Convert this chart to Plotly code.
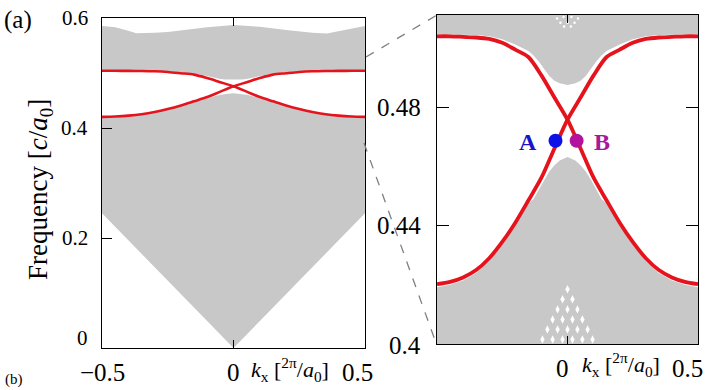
import plotly.graph_objects as go

# ---------------- data ----------------
# edge states (red curves)
edge_k = [-0.5, -0.45, -0.4, -0.35, -0.3, -0.25, -0.2, -0.15, -0.1, -0.05, 0.0,
          0.05, 0.1, 0.15, 0.2, 0.25, 0.3, 0.35, 0.4, 0.45, 0.5]
edge_down = [0.5040, 0.5040, 0.5038, 0.5036, 0.5031, 0.5018, 0.4995, 0.4970, 0.4908, 0.4833, 0.4758,
             0.4661, 0.4562, 0.4485, 0.4410, 0.4345, 0.4290, 0.4250, 0.4225, 0.4210, 0.4202]
edge_up = [0.4202, 0.4210, 0.4225, 0.4250, 0.4290, 0.4345, 0.4410, 0.4485, 0.4562, 0.4661, 0.4758,
           0.4833, 0.4908, 0.4970, 0.4995, 0.5018, 0.5031, 0.5036, 0.5038, 0.5040, 0.5040]

# bulk band boundaries (gray)
band_k = [-0.5, -0.45, -0.4, -0.35, -0.3, -0.25, -0.2, -0.15, -0.13, -0.11, -0.09, -0.07, -0.05, -0.03, 0.0,
          0.03, 0.05, 0.07, 0.09, 0.11, 0.13, 0.15, 0.2, 0.25, 0.3, 0.35, 0.4, 0.45, 0.5]
upper_band_bottom = [0.5046, 0.5046, 0.5045, 0.5044, 0.5040, 0.5030, 0.5012, 0.4990, 0.4975, 0.4955, 0.4930,
                     0.4906, 0.4890, 0.4881, 0.4875,
                     0.4881, 0.4890, 0.4906, 0.4930, 0.4955, 0.4975, 0.4990, 0.5012, 0.5030, 0.5040,
                     0.5044, 0.5045, 0.5046, 0.5046]
lower_band_top = [0.4192, 0.4200, 0.4215, 0.4240, 0.4280, 0.4335, 0.4400, 0.4475, 0.4490, 0.4520, 0.4555,
                  0.4583, 0.4604, 0.4620, 0.4632,
                  0.4620, 0.4604, 0.4583, 0.4555, 0.4520, 0.4490, 0.4475, 0.4400, 0.4335, 0.4280,
                  0.4240, 0.4215, 0.4200, 0.4192]
top_k = [-0.5, -0.45, -0.4, -0.37, -0.3, -0.25, -0.2, -0.1, 0.0, 0.1, 0.2, 0.25, 0.3, 0.355, 0.4, 0.45, 0.5]
top_f = [0.5855, 0.5830, 0.5770, 0.5725, 0.5730, 0.5745, 0.5770, 0.5830, 0.5873, 0.5840, 0.5780, 0.5750,
         0.5730, 0.5720, 0.5760, 0.5810, 0.5855]
cone_k = [-0.5, 0.0, 0.5]
cone_f = [0.245, 0.0, 0.245]

# white artefact dots inside the bulk (right panel)
dots_k = [0.0, -0.019, 0.019, -0.038, 0.0, 0.038, -0.057, -0.019, 0.019, 0.057,
          -0.077, -0.038, 0.0, 0.038, 0.077, -0.096, -0.057, -0.019, 0.019, 0.057, 0.096]
dots_f = [0.4185, 0.4151, 0.4151, 0.4117, 0.4117, 0.4117, 0.4083, 0.4083, 0.4083, 0.4083,
          0.4049, 0.4049, 0.4049, 0.4049, 0.4049, 0.4015, 0.4015, 0.4015, 0.4015, 0.4015, 0.4015]
topdots_k = [-0.04, -0.015, 0.015, 0.04, -0.027, 0.0, 0.027, -0.013, 0.013]
topdots_f = [0.5100, 0.5105, 0.5105, 0.5100, 0.5086, 0.5086, 0.5086, 0.5073, 0.5073]

# points A and B
pt_names = ["A", "B"]
pt_k = [-0.046, 0.035]
pt_f = [0.4687, 0.4687]

W, H = 726, 390
GRAY = "#c8c8c8"
RED = "#e5141c"
SERIF = "Liberation Serif"

fig = go.Figure()

for xa, ya, lw in [("x", "y", 2.6), ("x2", "y2", 3.8)]:
    # upper bulk band
    fig.add_trace(go.Scatter(
        x=band_k + top_k[::-1], y=upper_band_bottom + top_f[::-1],
        xaxis=xa, yaxis=ya, mode="lines", fill="toself", fillcolor=GRAY,
        line=dict(width=0, color=GRAY), hoverinfo="skip", showlegend=False))
    # lower bulk band
    fig.add_trace(go.Scatter(
        x=band_k + cone_k[::-1], y=lower_band_top + cone_f[::-1],
        xaxis=xa, yaxis=ya, mode="lines", fill="toself", fillcolor=GRAY,
        line=dict(width=0, color=GRAY), hoverinfo="skip", showlegend=False))
    if xa == "x2":
        fig.add_trace(go.Scatter(
            x=dots_k, y=dots_f, xaxis=xa, yaxis=ya, mode="markers",
            marker=dict(symbol="diamond-tall", size=6, color="white", line=dict(width=0)),
            hoverinfo="skip", showlegend=False))
        fig.add_trace(go.Scatter(
            x=topdots_k, y=topdots_f, xaxis=xa, yaxis=ya, mode="markers",
            marker=dict(symbol="circle", size=2.5, color="white", line=dict(width=0)),
            hoverinfo="skip", showlegend=False))
    for curve in (edge_down, edge_up):
        fig.add_trace(go.Scatter(
            x=edge_k, y=curve, xaxis=xa, yaxis=ya, mode="lines",
            line=dict(color=RED, width=lw, shape="spline", smoothing=0.8),
            hoverinfo="skip", showlegend=False))

fig.add_trace(go.Scatter(
    x=pt_k, y=pt_f, xaxis="x2", yaxis="y2", mode="markers",
    marker=dict(size=14, color=["#0c12e6", "#b3139c"], line=dict(width=0)),
    hoverinfo="skip", showlegend=False))

axis_common = dict(showline=True, linecolor="black", linewidth=1.3, showgrid=False,
                   zeroline=False, showticklabels=False, ticks="inside",
                   tickcolor="black", tickwidth=1.3)

fig.update_layout(
    width=W, height=H,
    margin=dict(l=0, r=0, t=0, b=0),
    paper_bgcolor="white", plot_bgcolor="white",
    xaxis=dict(domain=[102 / W, 365 / W], range=[-0.5, 0.5], tickvals=[0],
               ticklen=8, mirror="allticks", anchor="y", **axis_common),
    yaxis=dict(domain=[1 - 348 / H, 1 - 18 / H], range=[0, 0.6], tickvals=[0.2, 0.4],
               ticklen=10, mirror=True, anchor="x", **axis_common),
    xaxis2=dict(domain=[437 / W, 698 / W], range=[-0.5, 0.5], tickvals=[0],
                ticklen=8, mirror="allticks", anchor="y2", **axis_common),
    yaxis2=dict(domain=[1 - 344 / H, 1 - 15 / H], range=[0.4, 0.5112], tickvals=[0.44, 0.48],
                ticklen=12, mirror="allticks", anchor="x2", **axis_common),
)

ann = []


def txt(text, x, y, xref, yref, size, xanchor="center", yanchor="middle", color="black",
        angle=0):
    ann.append(dict(text=text, x=x, y=y, xref=xref, yref=yref, showarrow=False,
                    xanchor=xanchor, yanchor=yanchor, textangle=angle,
                    font=dict(family=SERIF, size=size, color=color)))


# left y tick labels
for v, s in [(0.2, "0.2"), (0.4, "0.4"), (0.6, "0.6")]:
    txt(s, 90 / W, v, "paper", "y", 21, xanchor="right")
txt("0", 90 / W, 1 - 352 / H, "paper", "paper", 21, xanchor="right", yanchor="bottom")
# left x tick labels
yb = 1 - 357 / H
txt("\u22120.5", -0.5, yb, "x", "paper", 25, yanchor="top")
txt("0", 0.0, yb, "x", "paper", 25, yanchor="top")
txt("0.5", 0.47, yb, "x", "paper", 25, yanchor="top")
txt("<i>k</i><sub>x</sub> [<sup>2π</sup>/<i>a</i><sub>0</sub>]", 290 / W, 1 - 369 / H,
    "paper", "paper", 22)
# right y tick labels
for v, s in [(0.44, "0.44"), (0.48, "0.48")]:
    txt(s, 423 / W, v, "paper", "y2", 25, xanchor="right")
txt("0.4", 423 / W, 1 - 345 / H, "paper", "paper", 25, xanchor="right")
# right x tick labels
yb2 = 1 - 368 / H
txt("\u22120.5", -0.515, yb2, "x2", "paper", 25)
txt("0", -0.02, yb2, "x2", "paper", 25)
txt("0.5", 0.458, yb2, "x2", "paper", 25)
txt("<i>k</i><sub>x</sub> [<sup>2π</sup>/<i>a</i><sub>0</sub>]", 621 / W, 1 - 364 / H,
    "paper", "paper", 22)
# y title
txt("Frequency [<i>c</i>/<i>a</i><sub>0</sub>]", 40 / W, 1 - 190 / H, "paper", "paper", 27,
    angle=-90)
# panel labels
txt("(a)", 18 / W, 1 - 20 / H, "paper", "paper", 25)
txt("(b)", 14 / W, 0.0, "paper", "paper", 15, yanchor="bottom")
# A / B labels
txt("<b>A</b>", -0.151, 0.4684, "x2", "y2", 24, color="#1a14c8")
txt("<b>B</b>", 0.131, 0.4684, "x2", "y2", 24, color="#a8189a")

fig.update_layout(annotations=ann)

# dashed zoom connectors
for (x0, y0, x1, y1) in [(366, 57, 437, 15), (364, 143, 436, 343)]:
    fig.add_shape(type="line", xref="paper", yref="paper",
                  x0=x0 / W, y0=1 - y0 / H, x1=x1 / W, y1=1 - y1 / H,
                  line=dict(color="#808080", width=1.3, dash="dash"))

fig.write_html("out.html", config={"displayModeBar": False},
               post_script="document.body.style.margin='0';document.body.style.padding='0';")
